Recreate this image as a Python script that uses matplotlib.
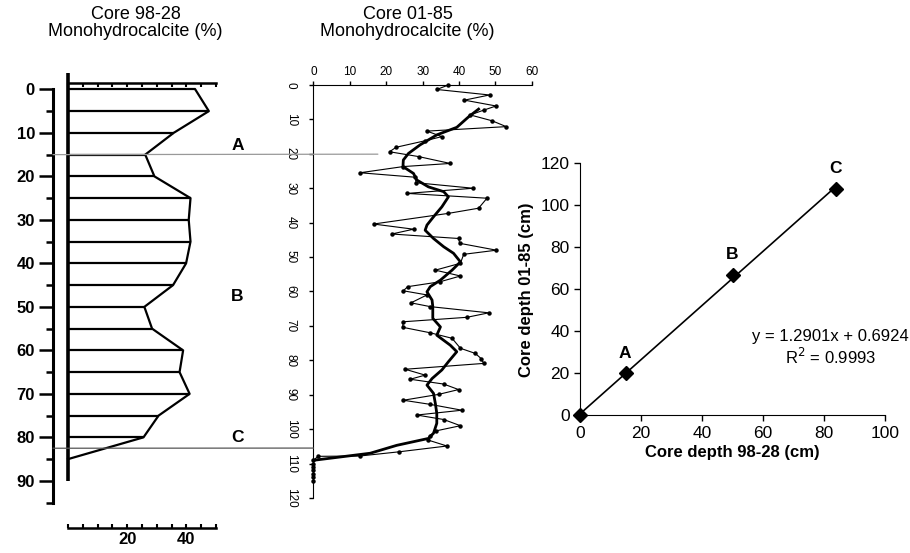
import numpy as np
import matplotlib
matplotlib.use('Agg')
import matplotlib.pyplot as plt
from matplotlib.patches import ConnectionPatch

plt.rcParams['font.family'] = ['Liberation Sans', 'DejaVu Sans']

# Core 98-28 monohydrocalcite profile (depth cm, %)
depth_9828 = [0, 5, 10, 15, 20, 25, 30, 35, 40, 45, 50, 55, 60, 65, 70, 75, 80, 85]
mhc_9828 = [43, 47.6, 35.7, 26.1, 29.2, 41.4, 40.8, 41.4, 39.9, 35.5, 25.8, 28.4,
            38.9, 37.7, 41.1, 30.6, 25.5, 0]

# Core 01-85 raw measurements (depth cm, %)
depth_0185 = [0, 1.3, 2.9, 4.4, 6.1, 7.3, 8.7, 10.4, 12.1, 13.4, 15.0, 16.2, 18.1, 19.4,
              20.8, 22.8, 23.7, 25.5, 26.8, 28.4, 30.0, 31.5, 32.9, 35.8, 37.3, 40.4,
              41.9, 43.3, 44.6, 46.0, 48.0, 49.2, 51.8, 53.8, 55.5, 57.2, 58.6, 59.8,
              61.0, 63.3, 64.4, 66.2, 67.5, 68.8, 70.4, 72.0, 73.6, 76.5, 78.0, 79.5,
              80.9, 82.6, 84.3, 85.5, 86.9, 88.5, 89.9, 91.6, 92.8, 94.5, 95.9, 97.2,
              99.0, 100.5, 102.0, 103.2, 104.9, 106.6, 107.8, 107.9, 109.0, 110.0,
              111.0, 112.0, 113.0, 114.0, 115.0]
mhc_0185 = [37.1, 33.9, 48.4, 41.5, 50.2, 46.8, 43.1, 49.1, 53.0, 31.2, 35.3, 30.7, 22.7, 20.9,
            28.9, 37.6, 24.7, 12.8, 28.0, 28.2, 43.9, 25.8, 47.7, 45.4, 37.1, 16.5,
            27.5, 21.5, 39.9, 40.2, 50.3, 41.3, 40.4, 33.5, 40.4, 34.7, 25.9, 24.7,
            31.2, 26.8, 32.1, 48.2, 42.2, 24.7, 24.5, 32.1, 38.1, 40.4, 44.5, 46.1,
            46.8, 25.2, 30.7, 26.6, 35.8, 39.9, 34.4, 24.7, 32.1, 40.8, 28.4, 35.8,
            40.4, 33.7, 31.9, 31.6, 36.7, 23.4, 12.8, 1.3, 0, 0,
            0, 0, 0, 0, 0]

# Core 01-85 smoothed curve
depth_smooth = [7, 9.2, 12.3, 14.5, 17.4, 19.9, 21.8, 23.7, 25.7, 27.6, 29.6, 31, 32.5, 35.4,
                38.3, 40.7, 42.2, 44.6, 47, 48.9, 51.4, 53.8, 56.7, 58.6, 60.1, 62.5, 64.4,
                67.8, 70.3, 72.7, 75.6, 77.5, 80.4, 82.8, 85.3, 87.2, 89.6, 92.5, 95.4,
                98.3, 101.2, 102.7, 104.7, 107, 109]
mhc_smooth = [45.4, 42.7, 39.4, 33.9, 29.3, 26.1, 24.7, 24.6, 27.5, 28.4, 31.6, 35.8, 37.1, 35.3,
              33, 31.2, 30.7, 33, 35.8, 38.5, 40.4, 38.1, 34.9, 32.1, 31.2, 32.6, 32.8,
              32.8, 34.9, 33.9, 37.6, 39.4, 37.1, 35.3, 32.6, 31.2, 33, 33.5, 33.9,
              33.9, 33, 31.6, 22.9, 15.6, 0.4]

# Tie points
tie_labels = ['A', 'B', 'C']
tie_9828 = [0, 15, 50, 84]
tie_0185 = [0, 20, 67, 108]
# where the horizontal tie lines are drawn on each core panel
line_9828 = [15, 82.5]
line_0185 = [20.1, 105.5]
line_end_x = [17.7, 0]

fig = plt.figure(figsize=(9.1, 5.53), dpi=100)

# ---- left panel: core 98-28
ax1 = fig.add_axes([0.0582, 0.0282, 0.1791, 0.8495])
ax1.set_xlim(-5.1, 50)
ax1.set_ylim(103, -5)
ax1.patch.set_visible(False)
ax1.hlines(depth_9828[:-1], 0, mhc_9828[:-1], color='black', lw=1.6)
ax1.plot(mhc_9828, depth_9828, color='black', lw=1.6)
ax1.plot([0, 0], [-3.7, 90], color='black', lw=2.6, solid_capstyle='butt')

ax1.spines['right'].set_visible(False)
ax1.spines['left'].set_position(('data', -5.1))
ax1.spines['left'].set_bounds(0, 95)
ax1.spines['left'].set_linewidth(2.2)
ax1.spines['bottom'].set_position(('data', 100.8))
ax1.spines['bottom'].set_bounds(0, 50)
ax1.spines['bottom'].set_linewidth(1.8)
ax1.spines['top'].set_position(('data', -1.4))
ax1.spines['top'].set_bounds(0, 50)
ax1.spines['top'].set_linewidth(1.8)
ax1.set_yticks(range(0, 91, 10))
ax1.set_yticks(range(5, 96, 10), minor=True)
ax1.tick_params(axis='y', which='major', direction='out', length=10, width=1.8,
                labelsize=12, pad=3)
ax1.tick_params(axis='y', which='minor', direction='out', length=5, width=1.8)
for lab in ax1.get_yticklabels():
    lab.set_fontweight('bold')
ax1.set_xticks([20, 40])
ax1.set_xticks(range(0, 51, 5), minor=True)
ax1.tick_params(axis='x', which='both', direction='in', length=3, width=1.5,
                top=True, labeltop=False, labelsize=12, pad=3)
for lab in ax1.get_xticklabels():
    lab.set_fontweight('bold')
for lab, d in zip(tie_labels, [12.8, 47.7, 80.0]):
    ax1.text(57.3, d, lab, fontsize=12.5, fontweight='bold', ha='center', va='center',
             clip_on=False)

# ---- middle panel: core 01-85
ax2 = fig.add_axes([0.3445, 0.0995, 0.2398, 0.7468])
ax2.set_xlim(0, 60)
ax2.set_ylim(120, 0)
ax2.patch.set_visible(False)
ax2.plot(mhc_0185, depth_0185, color='black', lw=0.8, marker='o', ms=2.2,
         clip_on=False)
ax2.plot(mhc_smooth, depth_smooth, color='black', lw=2.0, clip_on=False)
ax2.spines['right'].set_visible(False)
ax2.spines['bottom'].set_visible(False)
ax2.xaxis.tick_top()
ax2.set_xticks(range(0, 61, 10))
ax2.set_yticks(range(0, 121, 10))
ax2.tick_params(axis='both', direction='out', length=3, width=1, labelsize=8.5, pad=2)
for lab in ax2.get_yticklabels():
    lab.set_rotation(-90)
    lab.set_va('center')
ax2.tick_params(axis='y', pad=9)

# tie lines between the two cores
for d1, d2, xe, col in zip(line_9828, line_0185, line_end_x, ['#999999', '#555555']):
    con = ConnectionPatch(xyA=(-5.1, d1), coordsA=ax1.transData,
                          xyB=(xe, d2), coordsB=ax2.transData,
                          color=col, lw=0.9)
    fig.add_artist(con)

# titles
fig.text(0.149, 0.99, 'Core 98-28\nMonohydrocalcite (%)', ha='center', va='top',
         fontsize=13, linespacing=1.05)
fig.text(0.448, 0.99, 'Core 01-85\nMonohydrocalcite (%)', ha='center', va='top',
         fontsize=13, linespacing=1.05)

# ---- right panel: depth correlation
ax3 = fig.add_axes([0.6374, 0.249, 0.3352, 0.4557])
ax3.set_xlim(0, 100)
ax3.set_ylim(0, 120)
slope, intercept = np.polyfit(tie_9828, tie_0185, 1)
xs = np.array([tie_9828[0], tie_9828[-1]])
ax3.plot(xs, slope * xs + intercept, color='black', lw=1.2)
ax3.plot(tie_9828, tie_0185, linestyle='none', marker='D', ms=7, color='black',
         clip_on=False, zorder=5)
for lab, x, y in zip(tie_labels, tie_9828[1:], tie_0185[1:]):
    ax3.text(x - 0.3, y + 6, lab, fontsize=12.5, fontweight='bold', ha='center',
             va='bottom')
ax3.text(82, 37.3, 'y = 1.2901x + 0.6924', fontsize=12, ha='center', va='center')
ax3.text(82, 27.8, r'R$^2$ = 0.9993', fontsize=12, ha='center', va='center')
ax3.spines['top'].set_visible(False)
ax3.spines['right'].set_visible(False)
ax3.set_xticks(range(0, 101, 20))
ax3.set_yticks(range(0, 121, 20))
ax3.tick_params(direction='out', length=4, width=1, labelsize=12.5)
ax3.set_xlabel('Core depth 98-28 (cm)', fontsize=12, fontweight='bold', labelpad=3)
ax3.set_ylabel('Core depth 01-85 (cm)', fontsize=12, fontweight='bold', labelpad=5)

fig.savefig('out.png', dpi=100)
